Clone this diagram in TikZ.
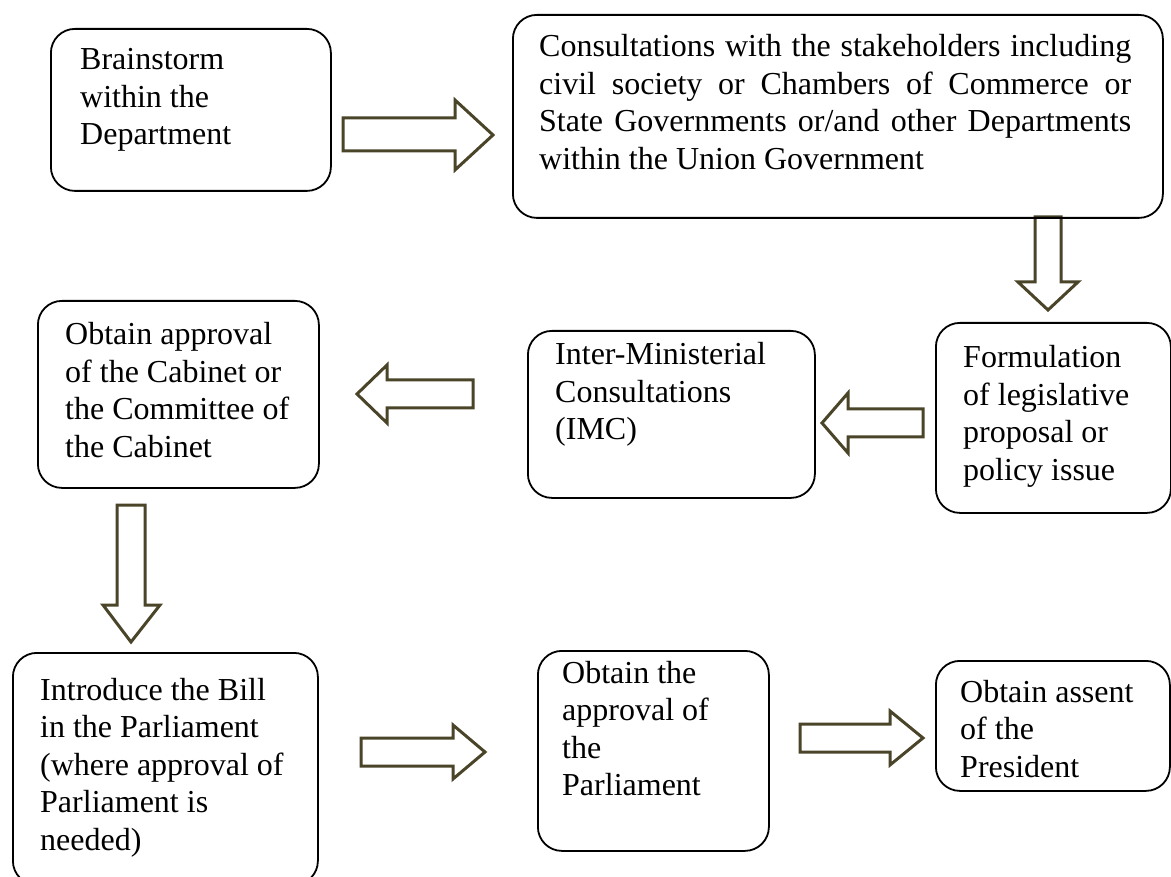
\documentclass[tikz,border=0pt]{standalone}
\usepackage{fontspec}
\setmainfont{Liberation Serif}
\definecolor{arrowolive}{RGB}{74,68,41}
\begin{document}
\begin{tikzpicture}[x=1pt,y=-1pt,
  box/.style={draw=black, line width=1.8pt, rounded corners=24pt, anchor=north west, inner sep=0pt},
  txt/.style={anchor=base west, inner sep=0pt, font=\fontsize{32}{37.5}\selectfont},
  blockarrow/.style={draw=arrowolive, line width=3pt, fill=white, line join=miter}]
\useasboundingbox (0,0) rectangle (1171,877);

% block arrows (drawn first so the box outlines lie on top)
\draw[blockarrow] (343,118) -- (455,118) -- (455,100) -- (493,135) -- (455,170) -- (455,151) -- (343,151) -- cycle;
\draw[blockarrow] (1035,217) -- (1035,282) -- (1018,282) -- (1048,310) -- (1078,282) -- (1061,282) -- (1061,217) -- cycle;
\draw[blockarrow] (473,380) -- (387,380) -- (387,365) -- (357,394) -- (387,423) -- (387,408) -- (473,408) -- cycle;
\draw[blockarrow] (923,409) -- (848,409) -- (848,393) -- (822,423) -- (848,453) -- (848,437) -- (923,437) -- cycle;
\draw[blockarrow] (117,505) -- (145,505) -- (145,605) -- (160,605) -- (131,642) -- (103,605) -- (117,605) -- cycle;
\draw[blockarrow] (361,738) -- (453,738) -- (453,725) -- (485,752) -- (453,779) -- (453,766) -- (361,766) -- cycle;
\draw[blockarrow] (800,724) -- (890,724) -- (890,711) -- (923,738) -- (890,765) -- (890,752) -- (800,752) -- cycle;

% boxes
\node[box, minimum width=280pt, minimum height=162pt] (brain) at (50,28) {};
\node[box, minimum width=650pt, minimum height=203pt] (consult) at (512,14) {};
\node[box, minimum width=235pt, minimum height=190pt] (formul) at (935,322) {};
\node[box, minimum width=287pt, minimum height=167pt] (imc) at (527,330) {};
\node[box, minimum width=281pt, minimum height=187pt] (cabinet) at (37,300) {};
\node[box, minimum width=305pt, minimum height=232pt] (intro) at (12,652) {};
\node[box, minimum width=231pt, minimum height=200pt] (parl) at (537,650) {};
\node[box, minimum width=234pt, minimum height=130pt] (assent) at (935,660) {};

% texts
\node[txt] (brainT) at (80,70) {\parbox[t]{240pt}{\raggedright Brainstorm\\within the\\Department}};
\node[txt] (consultT) at (539,57) {\parbox[t]{592pt}{Consultations with the stakeholders including\linebreak civil society or Chambers of Commerce or\linebreak State Governments or/and other Departments\linebreak within the Union Government}};
\node[txt] (formulT) at (963,368) {\parbox[t]{210pt}{\raggedright Formulation\\of legislative\\proposal or\\policy issue}};
\node[txt] (imcT) at (555,365) {\parbox[t]{250pt}{\raggedright Inter-Ministerial\\Consultations\\(IMC)}};
\node[txt] (cabinetT) at (65,345) {\parbox[t]{250pt}{\raggedright Obtain approval\\of the Cabinet or\\the Committee of\\the Cabinet}};
\node[txt] (introT) at (40,700) {\parbox[t]{280pt}{\raggedright Introduce the Bill\\in the Parliament\\(where approval of\\Parliament is\\needed)}};
\node[txt] (parlT) at (562,683) {\parbox[t]{200pt}{\raggedright Obtain the\\approval of\\the\\Parliament}};
\node[txt] (assentT) at (960,702) {\parbox[t]{210pt}{\raggedright Obtain assent\\of the\\President}};
\end{tikzpicture}
\end{document}
